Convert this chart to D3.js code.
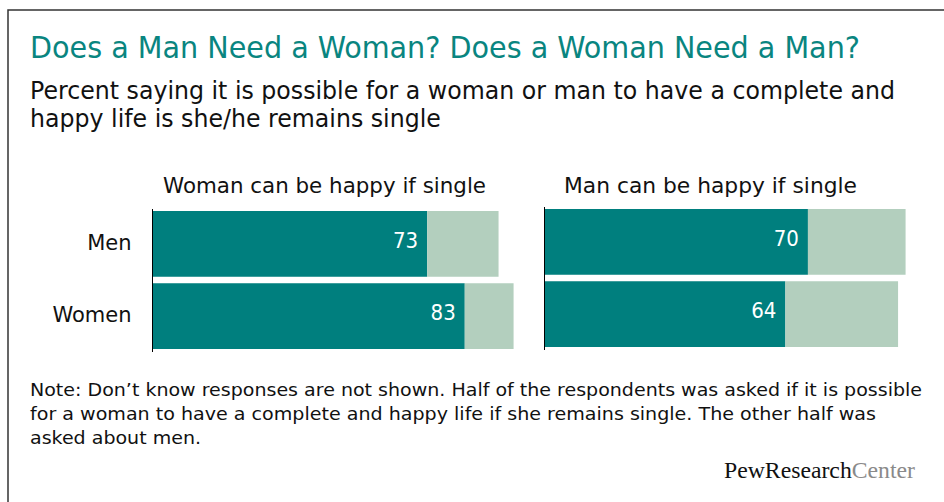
<!DOCTYPE html>
<html>
<head>
<meta charset="utf-8">
<script src="https://cdn.jsdelivr.net/npm/d3@7"></script>
<style>
  html, body { margin: 0; padding: 0; background: #fff; }
  svg { display: block; }
</style>
</head>
<body>
<div id="chart"></div>
<script>
// ---- data ----
const categories = ["Men", "Women"];
const panelTitles = ["Woman can be happy if single", "Man can be happy if single"];
const womanHappyYes = [73, 83];   // dark bars, left panel
const womanHappyNo  = [19, 13];   // light bars, left panel
const manHappyYes   = [70, 64];   // dark bars, right panel
const manHappyNo    = [26, 30];   // light bars, right panel

const titleText = "Does a Man Need a Woman? Does a Woman Need a Man?";
const subtitleLines = [
  "Percent saying it is possible for a woman or man to have a complete and",
  "happy life is she/he remains single"
];
const noteLines = [
  "Note: Don\u2019t know responses are not shown. Half of the respondents was asked if it is possible",
  "for a woman to have a complete and happy life if she remains single. The other half was",
  "asked about men."
];

const W = 944, H = 502;
const DARK = "#007f7e", LIGHT = "#b3cfbe", TITLE = "#098580";
const SANS = "'DejaVu Sans', Verdana, sans-serif";
const COND = "'DejaVu Sans Condensed', 'DejaVu Sans', sans-serif";

const svg = d3.select("#chart").append("svg").attr("width", W).attr("height", H);

// frame
svg.append("rect").attr("x", 8).attr("y", 10).attr("width", 960).attr("height", 520)
  .attr("fill", "none").attr("stroke", "#333").attr("stroke-width", 1.5);

function fitWidth(sel, w) {
  sel.attr("textLength", w).attr("lengthAdjust", "spacingAndGlyphs");
}

// title
svg.append("text").attr("x", 30).attr("y", 58).attr("fill", TITLE)
  .style("font-family", COND).style("font-size", "30px").text(titleText)
  .call(fitWidth, 830);

// subtitle
const sub1 = svg.append("text").attr("x", 30).attr("y", 99).attr("fill", "#111")
  .style("font-family", SANS).style("font-size", "25px").text(subtitleLines[0]);
const sub1nat = sub1.node().getComputedTextLength();
const subRatio = 865 / sub1nat;
sub1.call(fitWidth, 865);
const sub2 = svg.append("text").attr("x", 30).attr("y", 127).attr("fill", "#111")
  .style("font-family", SANS).style("font-size", "25px").text(subtitleLines[1]);
sub2.call(fitWidth, sub2.node().getComputedTextLength() * subRatio);

// panels
const panels = [
  { title: panelTitles[0], yes: womanHappyYes, no: womanHappyNo, x0: 153, yr: [211, 349], tx: 163, tw: 323, showCats: true },
  { title: panelTitles[1], yes: manHappyYes, no: manHappyNo, x0: 545, yr: [209, 347], tx: 564, tw: 293, showCats: false }
];
const pxPerUnit = 3.756;

panels.forEach(p => {
  const x = d3.scaleLinear().domain([0, 100]).range([p.x0, p.x0 + 100 * pxPerUnit]);
  const y = d3.scaleBand().domain(categories).range(p.yr).paddingInner(0.09).paddingOuter(0);
  const g = svg.append("g");

  const rows = categories.map((c, i) => ({ cat: c, yes: p.yes[i], no: p.no[i] }));

  g.selectAll("rect.yes").data(rows).join("rect").attr("class", "yes")
    .attr("x", x(0)).attr("y", d => y(d.cat))
    .attr("width", d => x(d.yes) - x(0)).attr("height", y.bandwidth())
    .attr("fill", DARK);
  g.selectAll("rect.no").data(rows).join("rect").attr("class", "no")
    .attr("x", d => x(d.yes)).attr("y", d => y(d.cat))
    .attr("width", d => x(d.yes + d.no) - x(d.yes)).attr("height", y.bandwidth())
    .attr("fill", LIGHT);

  g.selectAll("text.val").data(rows).join("text").attr("class", "val")
    .attr("x", d => x(d.yes) - 9).attr("y", d => y(d.cat) + y.bandwidth() / 2 + 4)
    .attr("text-anchor", "end").attr("fill", "#fff")
    .style("font-family", COND).style("font-size", "22px")
    .text(d => d.yes);

  // axis (category labels on left panel only)
  const axis = d3.axisLeft(y).tickSize(0).tickPadding(p.x0 - 132)
    .tickFormat(p.showCats ? (d => d) : () => "");
  const ag = svg.append("g").attr("transform", `translate(${p.x0 - 0.5},0)`).call(axis);
  ag.select(".domain").remove();
  ag.selectAll("text").attr("fill", "#111").style("font-family", SANS).style("font-size", "21px")
    .attr("dy", "0.3em");
  ag.append("line").attr("x1", 0).attr("x2", 0)
    .attr("y1", p.yr[0] - 2).attr("y2", p.yr[1] + 3)
    .attr("stroke", "#000").attr("stroke-width", 1);

  // panel header
  svg.append("text").attr("x", p.tx).attr("y", 193).attr("fill", "#111")
    .style("font-family", SANS).style("font-size", "21px").text(p.title)
    .call(fitWidth, p.tw);
});

// note
const noteWidths = [892, 846, null];
let noteRatio = 1;
noteLines.forEach((t, i) => {
  const tx = svg.append("text").attr("x", 30).attr("y", 396 + i * 24).attr("fill", "#111")
    .style("font-family", SANS).style("font-size", "17.5px").text(t);
  const nat = tx.node().getComputedTextLength();
  if (i === 0) noteRatio = noteWidths[0] / nat;
  tx.call(fitWidth, noteWidths[i] != null ? noteWidths[i] : nat * noteRatio);
});

// logo
const logo = svg.append("text").attr("fill", "#111")
  .style("font-family", "'Liberation Serif', 'DejaVu Serif', serif").style("font-size", "23px");
logo.append("tspan").text("PewResearch");
logo.append("tspan").attr("fill", "#8a8a8a").text("Center");
const logoNat = logo.node().getComputedTextLength();
logo.attr("transform", `translate(724,478) scale(${191 / logoNat},1)`);
</script>
</body>
</html>
